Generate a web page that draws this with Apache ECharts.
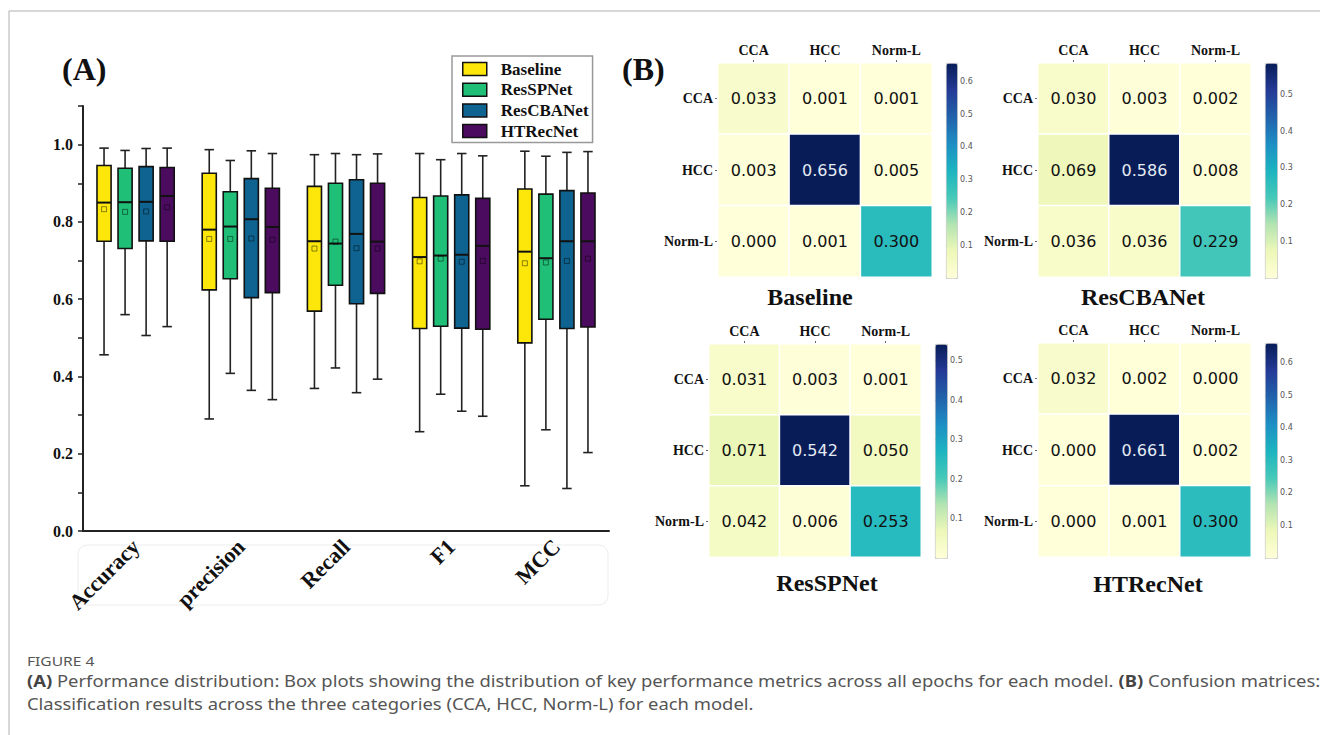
<!DOCTYPE html>
<html><head><meta charset="utf-8">
<script src="https://cdn.jsdelivr.net/npm/echarts@6/dist/echarts.min.js"></script>
<style>html,body{margin:0;padding:0;background:#fff;} #c{width:1320px;height:735px;}</style>
</head><body><div id="c"></div><script>
// ---------- DATA ----------
const metrics = ['Accuracy', 'precision', 'Recall', 'F1', 'MCC'];
const models = ['Baseline', 'ResSPNet', 'ResCBANet', 'HTRecNet'];
// each row: [low whisker, Q1, median, Q3, high whisker, mean]
const baselineBox = [
  [0.456, 0.750, 0.850, 0.946, 0.991, 0.833],
  [0.290, 0.624, 0.780, 0.926, 0.987, 0.756],
  [0.369, 0.569, 0.750, 0.892, 0.974, 0.731],
  [0.257, 0.524, 0.709, 0.863, 0.977, 0.698],
  [0.117, 0.487, 0.723, 0.885, 0.983, 0.693]
];
const resSPNetBox = [
  [0.560, 0.731, 0.851, 0.939, 0.985, 0.826],
  [0.408, 0.653, 0.788, 0.878, 0.959, 0.756],
  [0.422, 0.636, 0.744, 0.900, 0.977, 0.749],
  [0.354, 0.530, 0.713, 0.867, 0.961, 0.705],
  [0.262, 0.548, 0.706, 0.872, 0.970, 0.695]
];
const resCBANetBox = [
  [0.506, 0.751, 0.852, 0.943, 0.990, 0.827],
  [0.364, 0.604, 0.807, 0.912, 0.984, 0.757],
  [0.358, 0.588, 0.769, 0.909, 0.974, 0.732],
  [0.310, 0.525, 0.715, 0.870, 0.977, 0.697],
  [0.110, 0.524, 0.750, 0.881, 0.980, 0.699]
];
const htRecNetBox = [
  [0.529, 0.750, 0.867, 0.941, 0.991, 0.838],
  [0.340, 0.617, 0.787, 0.887, 0.977, 0.754],
  [0.393, 0.615, 0.749, 0.900, 0.976, 0.731],
  [0.297, 0.522, 0.738, 0.861, 0.971, 0.699],
  [0.203, 0.528, 0.750, 0.875, 0.982, 0.705]
];
const yTickLabels = ['0.0', '0.2', '0.4', '0.6', '0.8', '1.0'];

const cmClasses = ['CCA', 'HCC', 'Norm-L'];
// rows = true class, columns = predicted class
const baselineCM  = [[0.033, 0.001, 0.001], [0.003, 0.656, 0.005], [0.000, 0.001, 0.300]];
const resCBANetCM = [[0.030, 0.003, 0.002], [0.069, 0.586, 0.008], [0.036, 0.036, 0.229]];
const resSPNetCM  = [[0.031, 0.003, 0.001], [0.071, 0.542, 0.050], [0.042, 0.006, 0.253]];
const htRecNetCM  = [[0.032, 0.002, 0.000], [0.000, 0.661, 0.002], [0.000, 0.001, 0.300]];
const colorbarTicks = [0.1, 0.2, 0.3, 0.4, 0.5, 0.6];

// ---------- STYLE ----------
const boxColors = ['#FDE70A', '#1FBF77', '#0E6391', '#4B0B5E'];
const cmap = ['#ffffd9', '#eef8b8', '#b4e4b2', '#46c9b8', '#1cb4c0', '#1d8ec4', '#2162ab', '#243a96', '#081d58'];
const SERIF = '"Liberation Serif", "Times New Roman", serif';

const boxSets = [baselineBox, resSPNetBox, resCBANetBox, htRecNetBox];

function makeBoxRender(mi) {
  return function (params, api) {
    const cat = api.value(0);
    const bw = api.size([1, 0])[0];
    const cx = api.coord([cat, 0])[0] + (mi - 1.5) * bw * 0.2;
    const half = bw * 0.067;
    const cap = bw * 0.045;
    const y = k => api.coord([cat, api.value(k)])[1];
    const lo = y(1), q1 = y(2), md = y(3), q3 = y(4), hi = y(5), mn = y(6);
    const ws = { stroke: '#222', lineWidth: 1.6 };
    return {
      type: 'group',
      children: [
        { type: 'line', shape: { x1: cx, y1: hi, x2: cx, y2: q3 }, style: ws },
        { type: 'line', shape: { x1: cx, y1: q1, x2: cx, y2: lo }, style: ws },
        { type: 'line', shape: { x1: cx - cap, y1: hi, x2: cx + cap, y2: hi }, style: ws },
        { type: 'line', shape: { x1: cx - cap, y1: lo, x2: cx + cap, y2: lo }, style: ws },
        { type: 'rect', shape: { x: cx - half, y: q3, width: half * 2, height: q1 - q3 },
          style: { fill: boxColors[mi], stroke: '#111', lineWidth: 1.6 } },
        { type: 'line', shape: { x1: cx - half, y1: md, x2: cx + half, y2: md }, style: { stroke: '#111', lineWidth: 2 } },
        { type: 'rect', shape: { x: cx - 2.5, y: mn - 2.5, width: 5, height: 5 },
          style: { fill: 'none', stroke: 'rgba(0,0,0,0.45)', lineWidth: 1 } }
      ]
    };
  };
}

const series = [];
models.forEach((m, mi) => {
  series.push({
    name: m, type: 'custom', xAxisIndex: 0, yAxisIndex: 0,
    itemStyle: { color: boxColors[mi], borderColor: '#111', borderWidth: 1.5 },
    renderItem: makeBoxRender(mi),
    encode: { x: 0, y: [1, 2, 3, 4, 5, 6] },
    data: boxSets[mi].map((r, ci) => [ci].concat(r)),
    silent: true
  });
});

const hm = [
  { name: 'Baseline',  cm: baselineCM,  grid: [718, 63, 214, 214],   bar: [946, 63, 11, 215],  title: [810, 297] },
  { name: 'ResCBANet', cm: resCBANetCM, grid: [1038, 63, 213, 214],  bar: [1265, 63, 12, 215], title: [1143, 297] },
  { name: 'ResSPNet',  cm: resSPNetCM,  grid: [709, 344, 212, 213],  bar: [935, 344, 12, 214], title: [827, 583] },
  { name: 'HTRecNet',  cm: htRecNetCM,  grid: [1038, 343, 213, 214], bar: [1265, 343, 12, 215], title: [1148, 584] }
];

const grids = [{ left: 83, top: 106, width: 526, height: 425 }];
const xAxes = [{
  type: 'category', gridIndex: 0, data: metrics,
  axisLine: { lineStyle: { color: '#222', width: 2 } },
  axisTick: { alignWithLabel: true, length: 6, lineStyle: { color: '#222', width: 2 } },
  axisLabel: { rotate: 45, margin: 12, fontFamily: SERIF, fontWeight: 'bold', fontSize: 22, color: '#111' },
  splitLine: { show: false }
}];
const yAxes = [{
  type: 'value', gridIndex: 0, min: 0, max: 1.1, interval: 0.1,
  axisLine: { show: true, lineStyle: { color: '#222', width: 2 } },
  axisTick: { show: true, length: 5, lineStyle: { color: '#222', width: 1.5 } },
  axisLabel: {
    margin: 10, fontFamily: SERIF, fontWeight: 'bold', fontSize: 16, color: '#111',
    formatter: v => { const k = Math.round(v * 10); return (k % 2 === 0) ? yTickLabels[k / 2] : ''; }
  },
  splitLine: { show: false }
}];
const visualMaps = [];
const graphics = [];

hm.forEach((h, i) => {
  const gi = 1 + i;
  const vmax = Math.max(...h.cm.flat());
  grids.push({ left: h.grid[0], top: h.grid[1], width: h.grid[2], height: h.grid[3] });
  xAxes.push({
    type: 'category', gridIndex: gi, data: cmClasses, position: 'top',
    axisLine: { show: false },
    axisTick: { show: true, alignWithLabel: true, length: 3, lineStyle: { color: '#666' } },
    axisLabel: { margin: 6, fontFamily: SERIF, fontWeight: 'bold', fontSize: 14, color: '#111' },
    splitLine: { show: false }
  });
  yAxes.push({
    type: 'category', gridIndex: gi, data: cmClasses, inverse: true,
    axisLine: { show: false },
    axisTick: { show: true, alignWithLabel: true, length: 3, lineStyle: { color: '#666' } },
    axisLabel: { margin: 5, fontFamily: SERIF, fontWeight: 'bold', fontSize: 14, color: '#111' },
    splitLine: { show: false }
  });
  const data = [];
  h.cm.forEach((row, r) => row.forEach((v, c) => {
    data.push({ value: [c, r, v], label: { color: v > vmax * 0.6 ? '#e4ebf3' : '#111' } });
  }));
  visualMaps.push({
    type: 'continuous', seriesIndex: 4 + i, min: 0, max: vmax,
    left: h.bar[0], top: h.bar[1], itemWidth: h.bar[2], itemHeight: h.bar[3],
    padding: 0, calculable: false, hoverLink: false,
    inRange: { color: cmap },
    borderColor: '#bbb', borderWidth: 0.8
  });
  series.push({
    type: 'heatmap', xAxisIndex: gi, yAxisIndex: gi, data: data,
    itemStyle: { borderColor: '#fff', borderWidth: 1.5 },
    label: { show: true, formatter: p => p.value[2].toFixed(3), fontFamily: '"DejaVu Sans", sans-serif', fontSize: 16 },
    emphasis: { disabled: true }, silent: true
  });
  graphics.push({
    type: 'text', x: h.title[0], y: h.title[1],
    style: { text: h.name, fontFamily: SERIF, fontWeight: 'bold', fontSize: 24, fill: '#111', align: 'center', verticalAlign: 'middle' }
  });
});

// colorbar axes
hm.forEach((h, i) => {
  const gi = 5 + i;
  const vmax = Math.max(...h.cm.flat());
  grids.push({ left: h.bar[0], top: h.bar[1], width: h.bar[2], height: h.bar[3] });
  xAxes.push({ type: 'value', gridIndex: gi, show: false, min: 0, max: 1 });
  yAxes.push({
    type: 'value', gridIndex: gi, min: 0, max: vmax, interval: 0.1, position: 'right',
    axisLine: { show: false },
    axisTick: { show: true, length: 2, customValues: colorbarTicks, lineStyle: { color: '#666', width: 0.8 } },
    axisLabel: {
      margin: 3, fontSize: 8, color: '#555', fontFamily: '"DejaVu Sans", sans-serif',
      customValues: colorbarTicks,
      formatter: v => (v < 0.05 || Math.abs(v * 10 - Math.round(v * 10)) > 1e-6) ? '' : v.toFixed(1)
    },
    splitLine: { show: false }
  });
});

// panel labels, frame, caption
const CAP = '"Noto Sans", sans-serif';
graphics.push(
  { type: 'line', shape: { x1: 9, y1: 11, x2: 1320, y2: 11 }, style: { stroke: '#b0b0b0', lineWidth: 1 } },
  { type: 'line', shape: { x1: 9, y1: 11, x2: 9, y2: 735 }, style: { stroke: '#b0b0b0', lineWidth: 1 } },
  { type: 'rect', shape: { x: 78, y: 545, width: 530, height: 60, r: 9 }, style: { fill: 'none', stroke: '#ececec', lineWidth: 1 } },
  { type: 'text', x: 62, y: 69, style: { text: '(A)', fontFamily: SERIF, fontWeight: 'bold', fontSize: 32, fill: '#111', verticalAlign: 'middle' } },
  { type: 'text', x: 622, y: 69, style: { text: '(B)', fontFamily: SERIF, fontWeight: 'bold', fontSize: 32, fill: '#111', verticalAlign: 'middle' } },
  { type: 'text', x: 27, y: 661, scaleX: 1.2, style: { text: 'FIGURE 4', fontFamily: CAP, fontSize: 13, fill: '#555', verticalAlign: 'middle' } },
  { type: 'text', x: 27, y: 681, scaleX: 1.15, style: {
      text: '{b|(A)} Performance distribution: Box plots showing the distribution of key performance metrics across all epochs for each model. {b|(B)} Confusion matrices:',
      fontFamily: CAP, fontSize: 16, fill: '#555', verticalAlign: 'middle',
      rich: { b: { fontWeight: 'bold', fontFamily: CAP, fontSize: 16, fill: '#444' } } } },
  { type: 'text', x: 27, y: 704, scaleX: 1.15, style: {
      text: 'Classification results across the three categories (CCA, HCC, Norm-L) for each model.',
      fontFamily: CAP, fontSize: 16, fill: '#555', verticalAlign: 'middle' } }
);

const chart = echarts.init(document.getElementById('c'), null, { renderer: 'svg', width: 1320, height: 735 });
chart.setOption({
  backgroundColor: '#fff',
  animation: false,
  legend: {
    data: models.map(m => ({ name: m, icon: 'rect' })),
    orient: 'vertical', left: 452, top: 56,
    padding: [4.5, 4, 3, 10],
    itemWidth: 24, itemHeight: 13, itemGap: 3.7,
    borderColor: '#999', borderWidth: 1.5,
    itemStyle: { borderColor: '#111', borderWidth: 1.5 },
    textStyle: { fontFamily: SERIF, fontWeight: 'bold', fontSize: 17, color: '#111', lineHeight: 17, padding: [0, 0, 0, 9] },
    selectedMode: false
  },
  grid: grids, xAxis: xAxes, yAxis: yAxes,
  visualMap: visualMaps,
  series: series,
  graphic: graphics
});
</script></body></html>
